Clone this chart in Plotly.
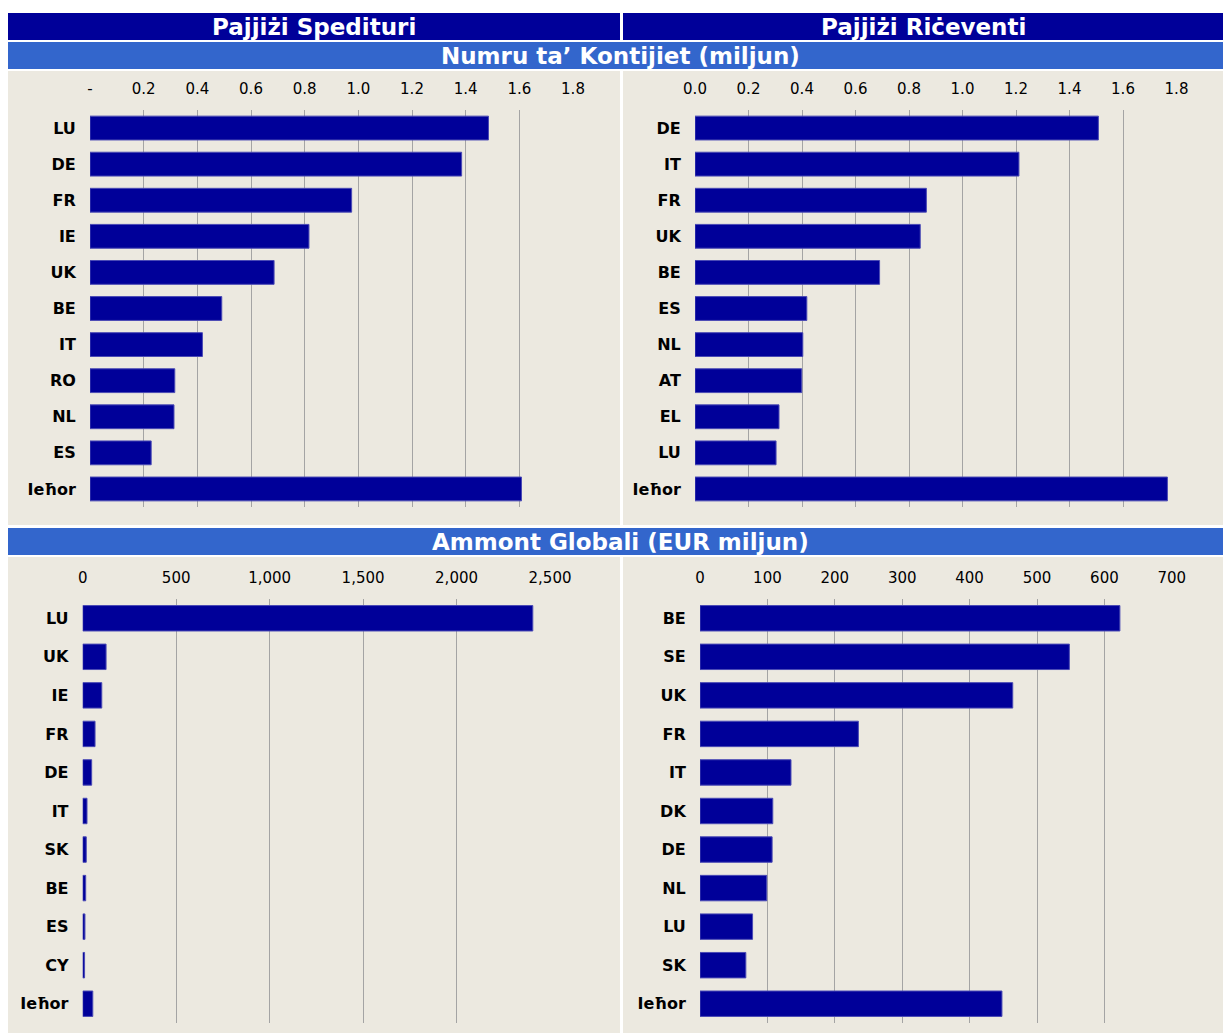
import plotly.graph_objects as go

W, H = 1223, 1035

# ---------------- data ----------------
tl_cats = ["LU", "DE", "FR", "IE", "UK", "BE", "IT", "RO", "NL", "ES", "Ieħor"]
tl_vals = [1.485, 1.385, 0.975, 0.816, 0.686, 0.491, 0.419, 0.316, 0.313, 0.228, 1.608]

tr_cats = ["DE", "IT", "FR", "UK", "BE", "ES", "NL", "AT", "EL", "LU", "Ieħor"]
tr_vals = [1.508, 1.211, 0.865, 0.842, 0.690, 0.418, 0.403, 0.399, 0.314, 0.303, 1.766]

bl_cats = ["LU", "UK", "IE", "FR", "DE", "IT", "SK", "BE", "ES", "CY", "Ieħor"]
bl_vals = [2408, 125, 102, 66, 48, 23, 19, 16, 12, 10, 54]

br_cats = ["BE", "SE", "UK", "FR", "IT", "DK", "DE", "NL", "LU", "SK", "Ieħor"]
br_vals = [623, 548, 464, 235, 135, 108, 107, 99, 78, 68, 448]

count_ticks = [0, 0.2, 0.4, 0.6, 0.8, 1.0, 1.2, 1.4, 1.6, 1.8]
tl_ticktext = ["-", "0.2", "0.4", "0.6", "0.8", "1.0", "1.2", "1.4", "1.6", "1.8"]
tr_ticktext = ["0.0", "0.2", "0.4", "0.6", "0.8", "1.0", "1.2", "1.4", "1.6", "1.8"]
bl_ticks = [0, 500, 1000, 1500, 2000, 2500]
bl_ticktext = ["0", "500", "1,000", "1,500", "2,000", "2,500"]
br_ticks = [0, 100, 200, 300, 400, 500, 600, 700]
br_ticktext = ["0", "100", "200", "300", "400", "500", "600", "700"]

header_left = "Pajjiżi Spedituri"
header_right = "Pajjiżi Riċeventi"
header_top = "Numru ta’ Kontijiet (miljun)"
header_bottom = "Ammont Globali (EUR miljun)"

# ---------------- styles ----------------
FONT = "DejaVu Sans"
DARK = "#000099"
MID = "#3366CC"
BEIGE = "#ECE9E0"
GRID = "#A4A4A4"


def px(x):
    return x / W


def py(y):
    return 1 - y / H


fig = go.Figure()

panels = [
    (tl_cats, tl_vals, "x", "y"),
    (tr_cats, tr_vals, "x2", "y2"),
    (bl_cats, bl_vals, "x3", "y3"),
    (br_cats, br_vals, "x4", "y4"),
]
for cats, vals, xa, ya in panels:
    fig.add_trace(go.Bar(
        y=cats, x=vals, orientation="h", xaxis=xa, yaxis=ya,
        marker=dict(color=DARK, line=dict(color="#4A4AB5", width=1)),
        width=0.66, showlegend=False, hoverinfo="x+y",
    ))

xdefs = [
    ("xaxis", [90, 573], [110, 507], [0, 1.8], count_ticks, tl_ticktext, "y"),
    ("xaxis2", [695, 1176.5], [110, 507], [0, 1.8], count_ticks, tr_ticktext, "y2"),
    ("xaxis3", [82.7, 550], [599, 1023], [0, 2500], bl_ticks, bl_ticktext, "y3"),
    ("xaxis4", [700, 1171.8], [599, 1023], [0, 700], br_ticks, br_ticktext, "y4"),
]
layout_axes = {}
for i, (name, xd, yd, rng, tv, tt, anchor) in enumerate(xdefs):
    layout_axes[name] = dict(
        domain=[px(xd[0]), px(xd[1])], range=rng, side="top", anchor=anchor,
        tickvals=tv, ticktext=tt, showgrid=True, gridcolor=GRID, gridwidth=1,
        zeroline=False, showline=False, ticks="outside", ticklen=9,
        tickcolor="rgba(0,0,0,0)", automargin=False,
        tickfont=dict(family=FONT, size=15, color="#000000"),
        fixedrange=True,
    )
    yname = "yaxis" if i == 0 else f"yaxis{i + 1}"
    cats = panels[i][0]
    layout_axes[yname] = dict(
        domain=[py(yd[1]), py(yd[0])], anchor="x" if i == 0 else f"x{i + 1}",
        type="category", categoryorder="array", categoryarray=cats,
        autorange="reversed", showgrid=False, zeroline=False, showline=False,
        ticks="outside", ticklen=10, tickcolor="rgba(0,0,0,0)", automargin=False,
        tickfont=dict(family=FONT, size=16, color="#000000", weight="bold"),
        fixedrange=True,
    )

shapes = []


def rect(x0, y0, x1, y1, color):
    shapes.append(dict(type="rect", xref="paper", yref="paper",
                       x0=px(x0), x1=px(x1), y0=py(y1), y1=py(y0),
                       fillcolor=color, line=dict(width=0), layer="below"))


rect(8, 13, 620, 40, DARK)
rect(623, 13, 1223, 40, DARK)
rect(8, 42, 1223, 69, MID)
rect(8, 71, 620, 525, BEIGE)
rect(623, 71, 1223, 525, BEIGE)
rect(8, 528, 1223, 555, MID)
rect(8, 557, 620, 1033, BEIGE)
rect(623, 557, 1223, 1033, BEIGE)

annotations = []


def label(text, xc, yc):
    annotations.append(dict(text=text, x=px(xc), y=py(yc), xref="paper", yref="paper",
                            showarrow=False, xanchor="center", yanchor="middle",
                            font=dict(family=FONT, size=23, color="#FFFFFF", weight="bold")))


label(header_left, 314, 27)
label(header_right, 923, 27)
label(header_top, 620, 56)
label(header_bottom, 620, 542)

fig.update_layout(
    width=W, height=H, autosize=False,
    margin=dict(l=0, r=0, t=0, b=0, pad=0),
    paper_bgcolor="#FFFFFF", plot_bgcolor="rgba(0,0,0,0)",
    shapes=shapes, annotations=annotations, bargap=0.34,
    font=dict(family=FONT),
    **layout_axes,
)

fig.write_html(
    "out.html", config={"displayModeBar": False},
    post_script=("document.body.style.margin='0';"
                 "document.body.style.overflow='hidden';"),
)
